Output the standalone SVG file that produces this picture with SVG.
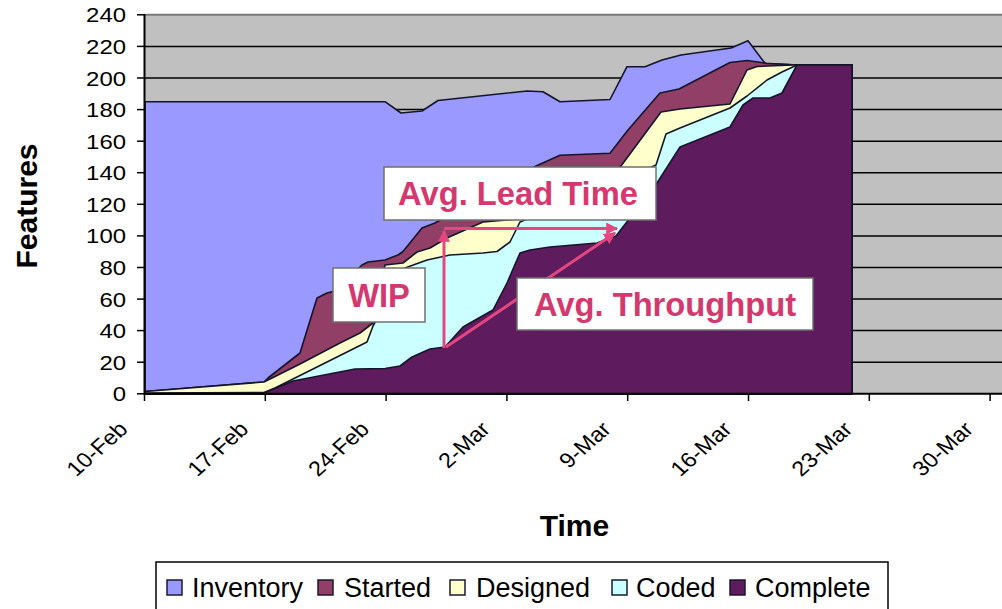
<svg xmlns="http://www.w3.org/2000/svg" width="1002" height="609" viewBox="0 0 1002 609">
<style>
text{font-family:"Liberation Sans",Arial,sans-serif;fill:#000}
.tick{font-size:21px}
.ttl{font-size:30px;font-weight:bold}
.grid line{stroke:#000;stroke-width:1.5}
.area{stroke:#15152a;stroke-width:1.6;stroke-linejoin:round}
.callout rect{fill:#fff;stroke:#707070;stroke-width:1.5}
.callout text{font-size:32.7px;font-weight:bold;fill:#D5386E}
.arrow{stroke:#E4467F;stroke-width:3;fill:none;marker-end:url(#ah)}
.lg{font-size:27px}
.sw{stroke:#1a1a2e;stroke-width:1.5}
.axis{stroke:#000;stroke-width:2}
</style>
<defs>
<marker id="ah" viewBox="0 0 10 10" refX="9" refY="5" markerWidth="4" markerHeight="4" orient="auto" markerUnits="strokeWidth">
<path d="M0,0 L10,5 L0,10 z" fill="#E4467F"/>
</marker>
</defs>

<rect width="1002" height="609" fill="#fff"/>

<!-- plot area -->
<g id="plot-area">
<rect x="144.5" y="14.8" width="858" height="379" fill="#C0C0C0"/>
<line x1="144.5" y1="14.8" x2="1002" y2="14.8" stroke="#7a7a7a" stroke-width="2"/>
</g>

<g id="gridlines" class="grid">
<line x1="144.5" y1="46.4" x2="1002" y2="46.4"/>
<line x1="144.5" y1="78.0" x2="1002" y2="78.0"/>
<line x1="144.5" y1="109.6" x2="1002" y2="109.6"/>
<line x1="144.5" y1="141.2" x2="1002" y2="141.2"/>
<line x1="144.5" y1="172.7" x2="1002" y2="172.7"/>
<line x1="144.5" y1="204.3" x2="1002" y2="204.3"/>
<line x1="144.5" y1="235.9" x2="1002" y2="235.9"/>
<line x1="144.5" y1="267.5" x2="1002" y2="267.5"/>
<line x1="144.5" y1="299.1" x2="1002" y2="299.1"/>
<line x1="144.5" y1="330.6" x2="1002" y2="330.6"/>
<line x1="144.5" y1="362.2" x2="1002" y2="362.2"/>
</g>

<!-- stacked areas, cumulative from the top series down -->
<g id="series-inventory">
<polygon class="area" fill="#9999FF" points="145,393.8 145,101.7 385,101.7 401,113 422,111 438,100.5 527,91 543,91.7 560,101.7 610,99.5 627,66.7 645,66.7 662,60 681,55 731,48 748,40.7 765,63.3 797,65 852,65 852,393.8"/>
</g>
<g id="series-started">
<polygon class="area" fill="#923F68" points="145,393.8 145,391.5 264,382 268,378 300,353 317,298 327,293 335,291 362,265 368,262 385,260 398,255 403,251.5 422,228 435,223 536,166 560,155.3 610,153.3 628,130 660,93 679,89 730,62.5 747,60.5 758,62 767,63.5 797,65 852,65 852,393.8"/>
</g>
<g id="series-designed">
<polygon class="area" fill="#FFFFCC" points="145,393.8 145,391.5 264,382 300,364 340,343 360,333 373,323 385,265 403,263 417,252 430,248 447,238 483,222 520,219 621,166 661,112 680,109 730,104 747,70 757,66.5 793,65 852,65 852,393.8"/>
</g>
<g id="series-coded">
<polygon class="area" fill="#CCFFFF" points="145,393.8 145,393 264,392.5 275,388 367,342 373,326 405,268 427,260 450,255 483,253 497,251.5 510,242 520,222 600,190 656,165 666,134 680,128 730,108 747,96 767,80 782,72 797,65 852,65 852,393.8"/>
</g>
<g id="series-complete">
<polygon class="area" fill="#5E1B5E" points="145,393.8 264,393 293,381 355,369 385,368.5 400,366 412,357 430,349 445,347 463,327 493,310 507,283 520,253 530,250 550,247 597,243 616,236 657,183 680,147 730,127 743,105 753,98 770,98 782,93 797,65 852,65 852,393.8"/>
</g>

<!-- axes -->
<g id="axes">
<line class="axis" x1="144.5" y1="14" x2="144.5" y2="394.5"/>
<line class="axis" x1="144" y1="393.8" x2="1002" y2="393.8"/>
<g stroke="#000" stroke-width="1.5">
<line x1="137" y1="14.8" x2="144.5" y2="14.8"/>
<line x1="137" y1="46.4" x2="144.5" y2="46.4"/>
<line x1="137" y1="78.0" x2="144.5" y2="78.0"/>
<line x1="137" y1="109.6" x2="144.5" y2="109.6"/>
<line x1="137" y1="141.2" x2="144.5" y2="141.2"/>
<line x1="137" y1="172.7" x2="144.5" y2="172.7"/>
<line x1="137" y1="204.3" x2="144.5" y2="204.3"/>
<line x1="137" y1="235.9" x2="144.5" y2="235.9"/>
<line x1="137" y1="267.5" x2="144.5" y2="267.5"/>
<line x1="137" y1="299.1" x2="144.5" y2="299.1"/>
<line x1="137" y1="330.6" x2="144.5" y2="330.6"/>
<line x1="137" y1="362.2" x2="144.5" y2="362.2"/>
<line x1="137" y1="393.8" x2="144.5" y2="393.8"/>
<line x1="144.5" y1="393.8" x2="144.5" y2="401"/>
<line x1="265.3" y1="393.8" x2="265.3" y2="401"/>
<line x1="386.1" y1="393.8" x2="386.1" y2="401"/>
<line x1="506.9" y1="393.8" x2="506.9" y2="401"/>
<line x1="627.7" y1="393.8" x2="627.7" y2="401"/>
<line x1="748.5" y1="393.8" x2="748.5" y2="401"/>
<line x1="869.3" y1="393.8" x2="869.3" y2="401"/>
<line x1="990.1" y1="393.8" x2="990.1" y2="401"/>
</g>
<!-- value labels, drawn slightly wide -->
<g class="tick" text-anchor="end">
<text transform="translate(126,22.3) scale(1.14,1)">240</text>
<text transform="translate(126,53.9) scale(1.14,1)">220</text>
<text transform="translate(126,85.5) scale(1.14,1)">200</text>
<text transform="translate(126,117.1) scale(1.14,1)">180</text>
<text transform="translate(126,148.7) scale(1.14,1)">160</text>
<text transform="translate(126,180.2) scale(1.14,1)">140</text>
<text transform="translate(126,211.8) scale(1.14,1)">120</text>
<text transform="translate(126,243.4) scale(1.14,1)">100</text>
<text transform="translate(126,275) scale(1.14,1)">80</text>
<text transform="translate(126,306.6) scale(1.14,1)">60</text>
<text transform="translate(126,338.1) scale(1.14,1)">40</text>
<text transform="translate(126,369.7) scale(1.14,1)">20</text>
<text transform="translate(126,401.3) scale(1.14,1)">0</text>
</g>
<!-- date labels -->
<g class="tick" text-anchor="end">
<text transform="translate(129,430.5) scale(1.12,1) rotate(-45)">10-Feb</text>
<text transform="translate(249.8,430.5) scale(1.12,1) rotate(-45)">17-Feb</text>
<text transform="translate(370.6,430.5) scale(1.12,1) rotate(-45)">24-Feb</text>
<text transform="translate(491.4,430.5) scale(1.12,1) rotate(-45)">2-Mar</text>
<text transform="translate(612.2,430.5) scale(1.12,1) rotate(-45)">9-Mar</text>
<text transform="translate(733,430.5) scale(1.12,1) rotate(-45)">16-Mar</text>
<text transform="translate(853.8,430.5) scale(1.12,1) rotate(-45)">23-Mar</text>
<text transform="translate(974.6,430.5) scale(1.12,1) rotate(-45)">30-Mar</text>
</g>
<text class="ttl" text-anchor="middle" transform="translate(37,206) rotate(-90)">Features</text>
<text class="ttl" x="574.5" y="536" text-anchor="middle" font-size="29">Time</text>
</g>

<!-- measurement arrows -->
<g id="connectors">
<line class="arrow" x1="444" y1="348" x2="444" y2="231"/>
<line class="arrow" x1="444" y1="228.5" x2="617" y2="228.5"/>
<line class="arrow" x1="446" y1="347" x2="615" y2="233"/>
</g>

<!-- callouts -->
<g id="callout-wip" class="callout">
<rect x="333" y="268" width="92" height="54"/>
<text x="379" y="307" text-anchor="middle">WIP</text>
</g>
<g id="callout-lead-time" class="callout">
<rect x="384" y="167" width="272" height="53"/>
<text x="518" y="205" text-anchor="middle">Avg. Lead Time</text>
</g>
<g id="callout-throughput" class="callout">
<rect x="517" y="278" width="296" height="52"/>
<text x="665" y="316" text-anchor="middle">Avg. Throughput</text>
</g>

<!-- legend -->
<g id="legend">
<rect x="156" y="562" width="732" height="60" fill="#fff" stroke="#000" stroke-width="1.5"/>
<rect class="sw" x="167" y="580" width="15" height="15" fill="#9999FF"/>
<text class="lg" x="192" y="597">Inventory</text>
<rect class="sw" x="318" y="580" width="15" height="15" fill="#923F68"/>
<text class="lg" x="344" y="597">Started</text>
<rect class="sw" x="450" y="580" width="15" height="15" fill="#FFFFCC"/>
<text class="lg" x="476" y="597">Designed</text>
<rect class="sw" x="612" y="580" width="15" height="15" fill="#CCFFFF"/>
<text class="lg" x="636" y="597">Coded</text>
<rect class="sw" x="730" y="580" width="15" height="15" fill="#5E1B5E"/>
<text class="lg" x="755" y="597">Complete</text>
</g>
</svg>
